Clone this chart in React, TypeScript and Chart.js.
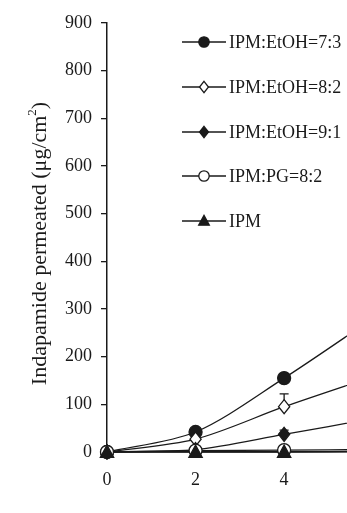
import React, { useEffect, useRef } from 'react';
import { Chart, registerables } from 'chart.js';

Chart.register(...registerables);

// ---- data ----
const timeHours = [0, 2, 4, 6];
const seriesNames = ['IPM:EtOH=7:3', 'IPM:EtOH=8:2', 'IPM:EtOH=9:1', 'IPM:PG=8:2', 'IPM'];
const etoh73 = [0, 42, 155, 280];
const etoh82 = [0, 27, 95, 158];
const etoh91 = [0, 5, 37, 70];
const pg82 = [0, 3, 4, 5];
const ipmOnly = [0, 0, 0, 1];
const err73 = [0, 4, 7, 12];
const err82 = [0, 4, 27, 20];
const err91 = [0, 2, 9, 8];
const errPg = [0, 0, 0, 0];
const errIpm = [0, 0, 0, 0];
const yTickValues = [0, 100, 200, 300, 400, 500, 600, 700, 800, 900];
const xTickValues = [0, 2, 4];
const yTitleMain = 'Indapamide permeated (\u03bcg/cm';
const yTitleSup = '2';
const yTitleEnd = ')';

const seriesValues = [etoh73, etoh82, etoh91, pg82, ipmOnly];
const seriesErrors = [err73, err82, err91, errPg, errIpm];

// ---- styles ----
const INK = '#1a1a1a';
const SERIF = '"Liberation Serif", "Times New Roman", Times, serif';
const markerStyles = [
  { shape: 'circle', fill: INK, r: 6.5 },
  { shape: 'rectRot', fill: '#ffffff', r: 7 },
  { shape: 'rectRot', fill: INK, r: 7 },
  { shape: 'circle', fill: '#ffffff', r: 6.5 },
  { shape: 'triangle', fill: INK, r: 7 },
];

function drawMarker(ctx: CanvasRenderingContext2D, shape: string, x: number, y: number, r: number, fill: string) {
  ctx.save();
  ctx.beginPath();
  if (shape === 'circle') {
    ctx.arc(x, y, r, 0, Math.PI * 2);
  } else if (shape === 'rectRot') {
    ctx.moveTo(x, y - r);
    ctx.lineTo(x + r * 0.8, y);
    ctx.lineTo(x, y + r);
    ctx.lineTo(x - r * 0.8, y);
    ctx.closePath();
  } else {
    ctx.moveTo(x, y - r);
    ctx.lineTo(x + r * 0.95, y + r * 0.75);
    ctx.lineTo(x - r * 0.95, y + r * 0.75);
    ctx.closePath();
  }
  ctx.fillStyle = fill;
  ctx.fill();
  ctx.lineWidth = 1.3;
  ctx.strokeStyle = INK;
  ctx.stroke();
  ctx.restore();
}

const errorBarPlugin = {
  id: 'errorBars',
  beforeDatasetsDraw(chart: any) {
    const { ctx } = chart;
    const xs = chart.scales.x;
    const ys = chart.scales.y;
    ctx.save();
    ctx.strokeStyle = INK;
    ctx.lineWidth = 1.3;
    seriesValues.forEach((vals, i) => {
      vals.forEach((v, j) => {
        const e = seriesErrors[i][j];
        if (!e) return;
        const px = xs.getPixelForValue(timeHours[j]);
        const py = ys.getPixelForValue(v);
        const pt = ys.getPixelForValue(v + e);
        ctx.beginPath();
        ctx.moveTo(px, py);
        ctx.lineTo(px, pt);
        ctx.moveTo(px - 4.5, pt);
        ctx.lineTo(px + 4.5, pt);
        ctx.stroke();
      });
    });
    ctx.restore();
  },
};

const customMarkerPlugin = {
  id: 'customMarkers',
  afterDatasetsDraw(chart: any) {
    const { ctx } = chart;
    for (let i = 0; i < seriesValues.length; i++) {
      const meta = chart.getDatasetMeta(i);
      const st = markerStyles[i];
      meta.data.forEach((pt: any) => {
        drawMarker(ctx, st.shape, pt.x, pt.y, st.r, st.fill);
      });
    }
  },
};

const legendPlugin = {
  id: 'customLegend',
  afterDraw(chart: any) {
    const { ctx } = chart;
    const rows = [42, 87, 132, 176, 221];
    ctx.save();
    seriesNames.forEach((name, i) => {
      const y = rows[i];
      ctx.strokeStyle = INK;
      ctx.lineWidth = 1.3;
      ctx.beginPath();
      ctx.moveTo(182, y);
      ctx.lineTo(226, y);
      ctx.stroke();
      const st = markerStyles[i];
      drawMarker(ctx, st.shape, 204, y, st.r * 0.8, st.fill);
      ctx.fillStyle = INK;
      ctx.font = `18px ${SERIF}`;
      ctx.textBaseline = 'middle';
      ctx.textAlign = 'left';
      ctx.fillText(name, 229, y + 1);
    });
    ctx.restore();
  },
};

const titlePlugin = {
  id: 'yTitle',
  afterDraw(chart: any) {
    const { ctx, chartArea } = chart;
    ctx.save();
    const cy = (chartArea.top + chartArea.bottom) / 2 + 6;
    ctx.translate(46, cy);
    ctx.rotate(-Math.PI / 2);
    ctx.fillStyle = INK;
    ctx.textBaseline = 'alphabetic';
    ctx.textAlign = 'left';
    const mainFont = `22px ${SERIF}`;
    const supFont = `13px ${SERIF}`;
    ctx.font = mainFont;
    const w1 = ctx.measureText(yTitleMain).width;
    const w3 = ctx.measureText(yTitleEnd).width;
    ctx.font = supFont;
    const w2 = ctx.measureText(yTitleSup).width;
    let x = -(w1 + w2 + w3) / 2;
    ctx.font = mainFont;
    ctx.fillText(yTitleMain, x, 0);
    x += w1;
    ctx.font = supFont;
    ctx.fillText(yTitleSup, x, -10);
    x += w2;
    ctx.font = mainFont;
    ctx.fillText(yTitleEnd, x, 0);
    ctx.restore();
  },
};

export default function App() {
  const ref = useRef<HTMLCanvasElement | null>(null);

  useEffect(() => {
    if (!ref.current) return;
    const datasets = seriesNames.map((name, i) => ({
      label: name,
      data: timeHours.map((t, j) => ({ x: t, y: seriesValues[i][j] })),
      borderColor: INK,
      borderWidth: 1.3,
      backgroundColor: markerStyles[i].fill,
      pointRadius: 0,
      pointHoverRadius: 0,
      tension: 0.3,
      clip: false as any,
      order: seriesNames.length - i,
    }));

    const chart = new Chart(ref.current, {
      type: 'line',
      data: { datasets },
      plugins: [errorBarPlugin, customMarkerPlugin, legendPlugin, titlePlugin],
      options: {
        animation: false,
        responsive: false,
        devicePixelRatio: 1,
        events: [],
        layout: { padding: { top: 23, right: 0, left: 0, bottom: 0 } },
        plugins: { legend: { display: false }, tooltip: { enabled: false } },
        scales: {
          x: {
            type: 'linear',
            min: 0,
            max: 5.42,
            afterBuildTicks: (s: any) => {
              s.ticks = xTickValues.map((v) => ({ value: v }));
            },
            afterFit: (s: any) => {
              s.height = 61;
            },
            ticks: {
              color: INK,
              font: { family: SERIF, size: 18 },
              padding: 17,
              maxRotation: 0,
            },
            grid: { drawOnChartArea: false, drawTicks: false, tickLength: 0 },
            border: { color: INK, width: 1.5 },
          },
          y: {
            type: 'linear',
            min: 0,
            max: 900,
            afterBuildTicks: (s: any) => {
              s.ticks = yTickValues.map((v) => ({ value: v }));
            },
            afterFit: (s: any) => {
              s.width = 107;
            },
            ticks: {
              color: INK,
              font: { family: SERIF, size: 18 },
              padding: 9,
            },
            grid: { drawOnChartArea: false, drawTicks: true, tickLength: 6, color: INK, lineWidth: 1.3 },
            border: { color: INK, width: 1.5 },
          },
        },
      } as any,
    });
    return () => chart.destroy();
  }, []);

  return (
    <div style={{ position: 'fixed', left: 0, top: 0, width: 347, height: 513, background: '#fff', overflow: 'hidden' }}>
      <canvas ref={ref} width={347} height={513} style={{ width: 347, height: 513, display: 'block' }} />
    </div>
  );
}
